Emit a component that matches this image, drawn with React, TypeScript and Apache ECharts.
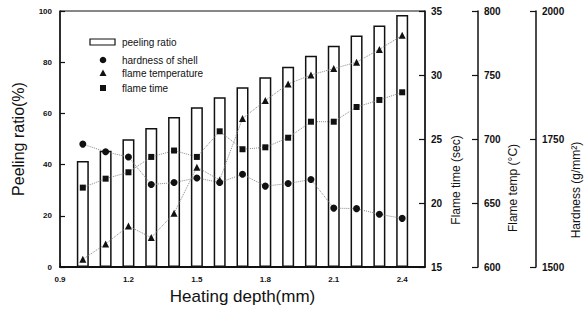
import React, { useEffect, useRef } from "react";
import * as echarts from "echarts";

const depth = [1.0, 1.1, 1.2, 1.3, 1.4, 1.5, 1.6, 1.7, 1.8, 1.9, 2.0, 2.1, 2.2, 2.3, 2.4];
const peelingRatio = [41.4, 45.4, 49.9, 54.3, 58.6, 62.4, 66.3, 70.2, 74.1, 78.2, 82.5, 86.4, 90.4, 94.3, 98.4];
const hardness = [1740, 1725, 1715, 1661, 1665, 1674, 1665, 1681, 1658, 1663, 1671, 1615, 1614, 1603, 1595];
const flameTemp = [606, 618, 632, 623, 642, 678, 668, 716, 730, 743, 750, 755, 760, 770, 781];
const flameTime = [21.2, 21.9, 22.4, 23.6, 24.1, 23.6, 25.6, 24.2, 24.35, 25.1, 26.35, 26.35, 27.5, 28.05, 28.65];

const legendNames = ["peeling ratio", "hardness of shell", "flame temperature", "flame time"];
const axisNames = ["Peeling ratio(%)", "Flame time (sec)", "Flame temp (\u00B0C)", "Hardness (g/mm\u00B2)"];
const xName = "Heating depth(mm)";

const FONT = "Liberation Sans, Arial, sans-serif";
const INK = "#111";

function pairs(ys: number[]) {
  return depth.map((x, i) => [x, ys[i]]);
}

export default function App() {
  const ref = useRef<HTMLDivElement>(null);
  useEffect(() => {
    if (!ref.current) return;
    const chart = echarts.init(ref.current, undefined, { renderer: "svg" });
    const rightAxis = (min: number, max: number, interval: number, offset: number) => ({
      type: "value",
      position: "right",
      offset,
      min,
      max,
      interval,
      axisLine: { show: true, lineStyle: { color: INK, width: 1.5 } },
      axisTick: { show: true, inside: true, length: 6, lineStyle: { color: INK, width: 1.2 } },
      axisLabel: {
        color: INK,
        fontSize: 10,
        fontWeight: "bold",
        fontFamily: FONT,
        margin: 6,
        formatter: (v: number) => String(v),
      },
      splitLine: { show: false },
    });
    const lineSeries = (name: string, data: number[], symbol: string, yAxisIndex: number, size: number) => ({
      name,
      type: "line",
      yAxisIndex,
      data: pairs(data),
      symbol,
      symbolSize: size,
      showSymbol: true,
      itemStyle: { color: INK },
      lineStyle: { color: "#888", width: 1, type: "dotted" },
      z: 3,
    });
    chart.setOption({
      animation: false,
      backgroundColor: "#fff",
      grid: {
        left: 60,
        right: 160,
        top: 11,
        bottom: 53,
        show: true,
        borderColor: INK,
        borderWidth: 1,
        backgroundColor: "transparent",
      },
      xAxis: {
        type: "value",
        min: 0.9,
        max: 2.5,
        interval: 0.3,
        name: xName,
        nameLocation: "middle",
        nameGap: 19,
        nameTextStyle: { color: INK, fontSize: 17, fontFamily: FONT, verticalAlign: "top" },
        axisLine: { show: true, lineStyle: { color: INK, width: 2 } },
        axisTick: { show: true, inside: true, length: 4, lineStyle: { color: INK } },
        axisLabel: {
          color: INK,
          fontSize: 8,
          fontWeight: "bold",
          fontFamily: FONT,
          margin: 8,
          showMaxLabel: false,
          formatter: (v: number) => (v > 2.45 ? "" : v.toFixed(1)),
        },
        splitLine: { show: false },
      },
      yAxis: [
        {
          type: "value",
          position: "left",
          min: 0,
          max: 100,
          interval: 20,
          axisLine: { show: true, lineStyle: { color: INK, width: 1.5 } },
          axisTick: { show: true, inside: true, length: 5, lineStyle: { color: INK, width: 1.2 } },
          axisLabel: { color: INK, fontSize: 8, fontWeight: "bold", fontFamily: FONT, margin: 8 },
          splitLine: { show: false },
        },
        rightAxis(15, 35, 5, 0),
        rightAxis(600, 800, 50, 53),
        rightAxis(1500, 2000, 250, 111),
      ],
      series: [
        {
          name: legendNames[0],
          type: "bar",
          yAxisIndex: 0,
          data: pairs(peelingRatio),
          barWidth: 12,
          itemStyle: { color: "#fff", borderColor: INK, borderWidth: 1.5 },
          z: 2,
        },
        lineSeries(legendNames[1], hardness, "circle", 3, 7),
        lineSeries(legendNames[2], flameTemp, "triangle", 2, 7),
        lineSeries(legendNames[3], flameTime, "rect", 1, 6),
      ],
      graphic: [
        { type: "rect", shape: { x: 90, y: 39, width: 25, height: 6 }, style: { fill: "#fff", stroke: INK, lineWidth: 1.2 }, z: 10 },
        { type: "circle", shape: { cx: 103, cy: 60, r: 3.3 }, style: { fill: INK }, z: 10 },
        { type: "polygon", shape: { points: [[103, 69.5], [99.5, 76], [106.5, 76]] }, style: { fill: INK }, z: 10 },
        { type: "rect", shape: { x: 100, y: 85, width: 6, height: 6 }, style: { fill: INK }, z: 10 },
        ...legendNames.map((t, i) => ({
          type: "text",
          x: 122,
          y: [42, 60, 73.5, 88][i],
          style: { text: t, fill: INK, font: `10px ${FONT}`, textVerticalAlign: "middle", textAlign: "left" },
          z: 10,
        })),
        ...axisNames.map((t, i) => ({
          type: "text",
          x: [18, 456, 513, 576][i],
          y: [139, 180, 188, 190][i],
          rotation: Math.PI / 2,
          style: {
            text: t,
            fill: INK,
            font: `${i === 0 ? 16 : 12}px ${FONT}`,
            textAlign: "center",
            textVerticalAlign: "middle",
          },
          z: 10,
        })),
      ],
    });
    return () => chart.dispose();
  }, []);
  return <div ref={ref} style={{ position: "absolute", left: 0, top: 0, width: 585, height: 320 }} />;
}
